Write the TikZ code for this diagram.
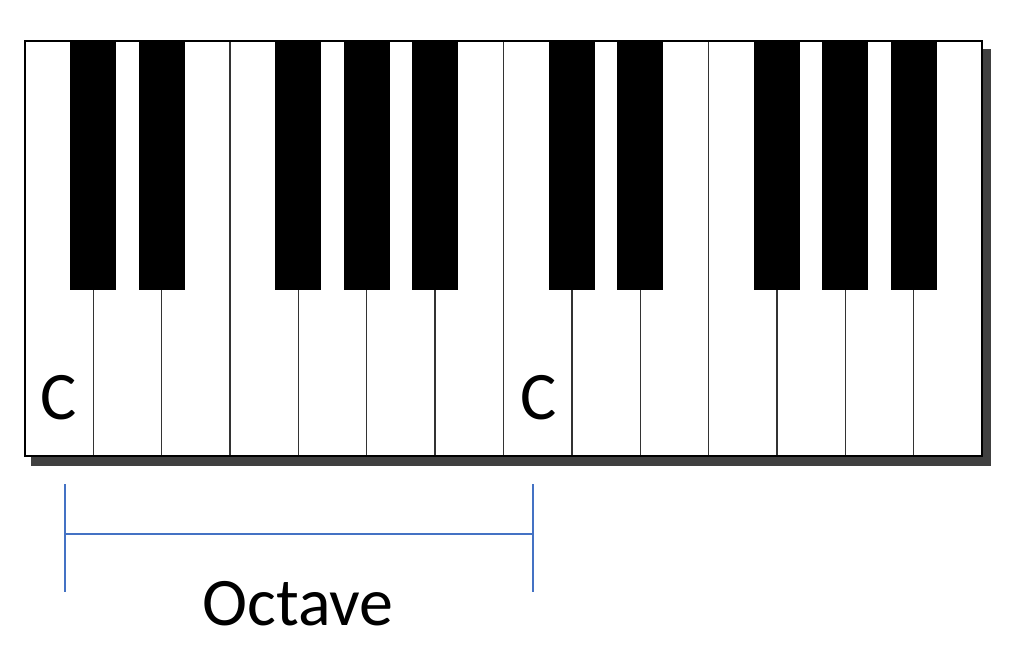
\documentclass[tikz,border=0pt]{standalone}
\usepackage{fontspec}
\setmainfont{Carlito}
\definecolor{bracketblue}{RGB}{68,114,196}
\definecolor{shadowgray}{RGB}{64,64,64}
\begin{document}
\begin{tikzpicture}[x=1pt,y=-1pt]
    \def\xl{25} \def\xr{982} \def\yt{41} \def\yb{456} % Keyboard
    \def\w{68.357} \def\bw{46} \def\by{290}
    \useasboundingbox (0,0) rectangle (1030,659);
    \fill[shadowgray] (\xl+6,\yt+8) rectangle (\xr+9,\yb+10);
    \fill[white] (\xl,\yt) rectangle (\xr,\yb);
    \foreach \i in {1,...,13}
        \draw[gray!40!black,line width=1.4pt] (\xl+\i*\w,\yt)--(\xl+\i*\w,\yb);
    \foreach \i in {1,2,4,5,6,8,9,11,12,13}
        \fill[black] (\xl+\i*\w-\bw/2,\yt) rectangle (\xl+\i*\w+\bw/2,\by);
    \draw[line width=2.8pt] (\xl,\yt) rectangle (\xr,\yb);
    \node (c1) at (59,398) {\fontsize{68}{74}\selectfont C};
    \node (c2) at (539,398) {\fontsize{68}{74}\selectfont C};
    \draw[bracketblue,line width=1.6pt] (65,484)--(65,592);
    \draw[bracketblue,line width=1.6pt] (533,484)--(533,592);
    \draw[bracketblue,line width=1.6pt] (65,534)--(533,534);
    \node (oct) at (298,604) {\fontsize{68}{74}\selectfont Octave};
\end{tikzpicture}
\end{document}
